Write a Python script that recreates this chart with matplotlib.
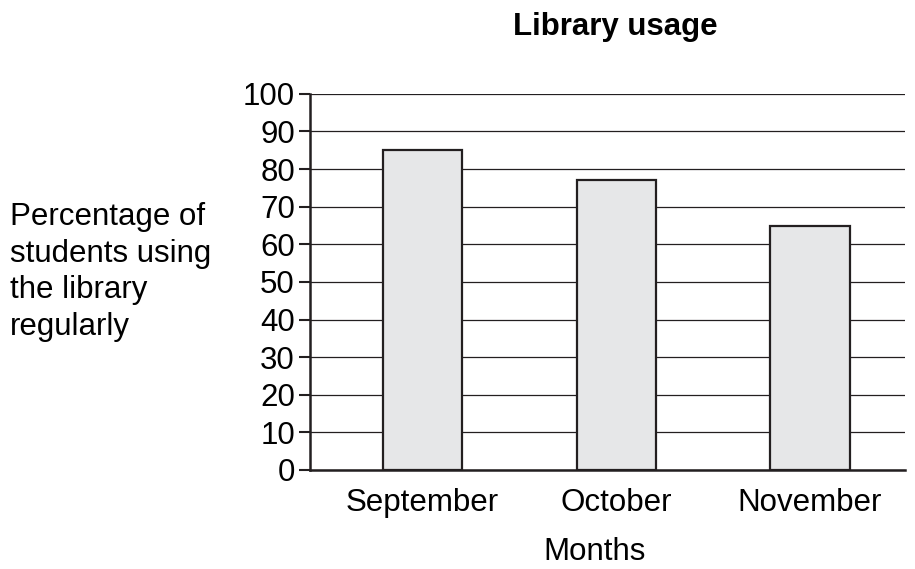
import matplotlib.pyplot as plt

months = ["September", "October", "November"]
usage = [85, 77, 65]
y_ticks = list(range(0, 101, 10))

plt.rcParams['font.family'] = ['Liberation Sans', 'DejaVu Sans']

fig = plt.figure(figsize=(9.15, 5.69), dpi=100)
ax = fig.add_axes([0.339, 0.174, 0.65, 0.661])

x = list(range(len(months)))
ax.bar(x, usage, width=0.41, color='#e6e7e8', edgecolor='#231f20',
       linewidth=1.6, zorder=3)

ax.set_ylim(0, 100)
ax.set_xlim(-0.58, 2.49)
ax.set_yticks(y_ticks)
ax.set_xticks(x)
ax.set_xticklabels(months)

ax.grid(axis='y', color='#231f20', linewidth=0.9, zorder=0)
ax.tick_params(axis='y', length=8, width=1.5, labelsize=22.5, pad=3, color='#231f20')
ax.tick_params(axis='x', length=0, labelsize=22.5, pad=13)

for side in ['top', 'right']:
    ax.spines[side].set_visible(False)
for side in ['left', 'bottom']:
    ax.spines[side].set_linewidth(1.8)
    ax.spines[side].set_color('#231f20')

# axis titles placed as figure text to match the reference positions
fig.text(0.650, 0.029, "Months", fontsize=22.5, ha='center', va='center')
fig.text(0.011, 0.522, "Percentage of\nstudents using\nthe library\nregularly",
         fontsize=22.5, ha='left', va='center', linespacing=1.3)
fig.text(0.673, 0.953, "Library usage", fontsize=22.5, fontweight='bold',
         ha='center', va='center')

fig.savefig("out.png", dpi=100)
